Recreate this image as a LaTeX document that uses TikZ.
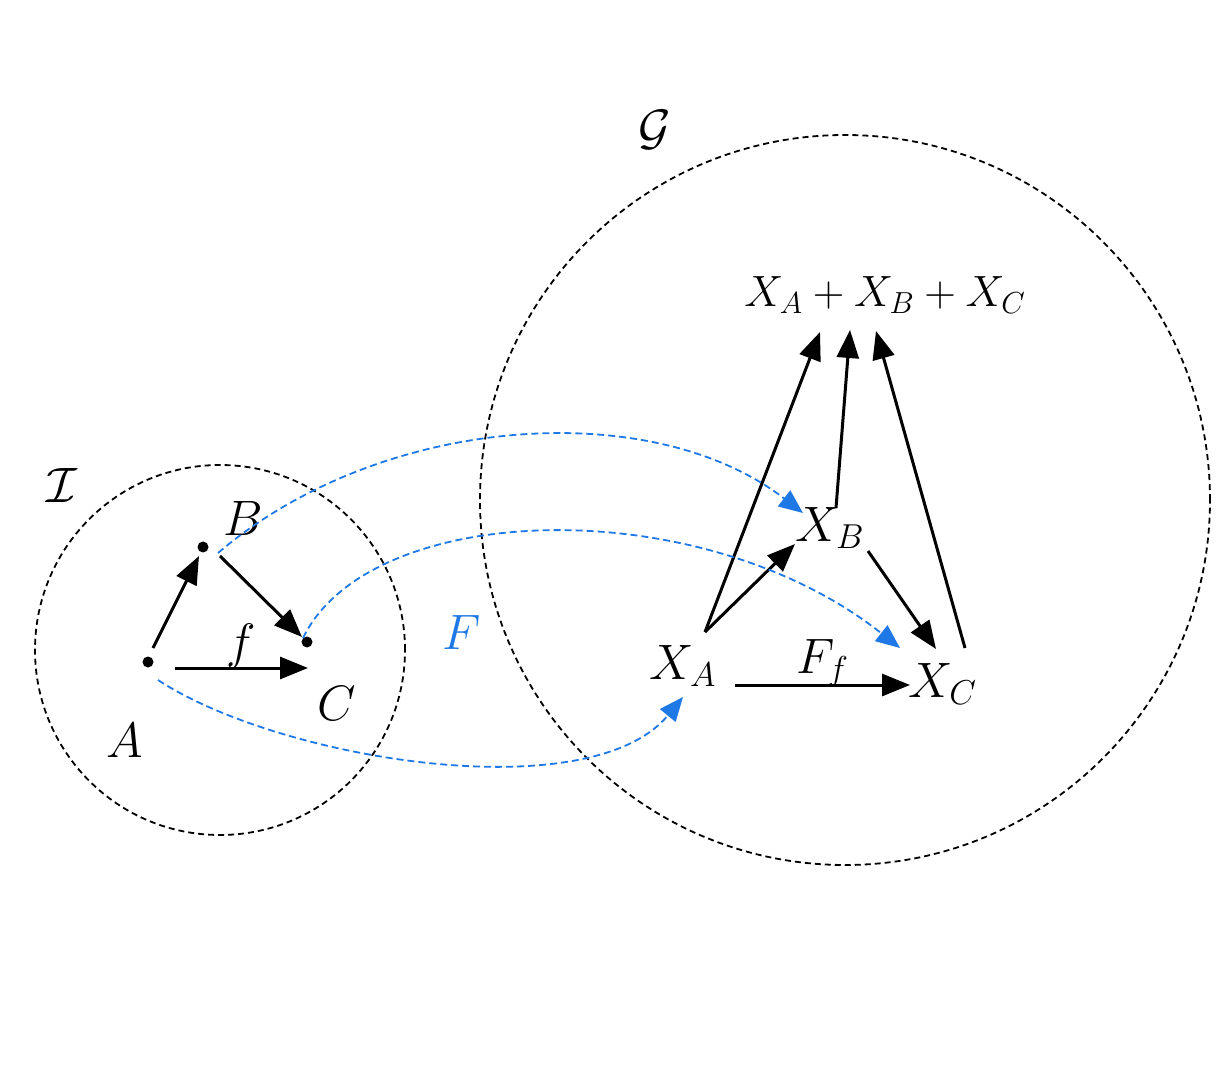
\documentclass[tikz,border=0pt]{standalone}
\usetikzlibrary{arrows.meta}
\definecolor{fblue}{RGB}{30,120,230}
\begin{document}
\begin{tikzpicture}[x=0.5pt,y=-0.5pt,
  lbl/.style={font=\fontsize{26}{28}\selectfont, inner sep=1pt},
  bigarrow/.style={line width=1.5pt, -{Triangle[length=14pt,width=11pt]}},
  circ/.style={draw=black, line width=0.9pt, dash pattern=on 3pt off 2pt},
  fmap/.style={draw=fblue, line width=0.9pt, dash pattern=on 3.5pt off 2pt, -{Triangle[length=12pt,width=10pt]}},
  pt/.style={circle, fill=black, inner sep=0pt, minimum size=5.5pt}]
\useasboundingbox (0,0) rectangle (1232,1080);
% circles
\node[circ, circle, minimum size=370*0.5pt, inner sep=0pt] (catI) at (220,650) {};
\node[circ, circle, minimum size=730*0.5pt, inner sep=0pt] (catG) at (845,500) {};
\node[lbl] (labI) at (62,485) {$\mathcal{I}$};
\node[lbl] (labG) at (655,130) {$\mathcal{G}$};
% left diagram
\node[pt] (A) at (148,662) {};
\node[pt] (B) at (203,547) {};
\node[pt] (C) at (307,642) {};
\node[lbl] (labA) at (125,740) {$A$};
\node[lbl] (labB) at (243,518) {$B$};
\node[lbl] (labC) at (337,703) {$C$};
\coordinate (ab0) at (153,648); \coordinate (ab1) at (199,556);
\coordinate (bc0) at (220,556); \coordinate (bc1) at (302,637);
\coordinate (ac0) at (175,668); \coordinate (ac1) at (308,668);
\draw[bigarrow] (ab0) -- (ab1);
\draw[bigarrow] (bc0) -- (bc1);
\draw[bigarrow] (ac0) -- node[lbl, above=-2pt] (labf) {$f$} (ac1);
% functor label
\node[lbl, text=fblue] (labF) at (462,632) {$F$};
% right diagram
\node[lbl] (sum) at (885,295) {\scalebox{0.88}{$X_A + X_B + X_C$}};
\node[lbl] (XB) at (830,528) {$X_B$};
\node[lbl] (XA) at (683,666) {$X_A$};
\node[lbl] (XC) at (943,684) {$X_C$};
\coordinate (s1) at (820,332); \coordinate (s2) at (850,330); \coordinate (s3) at (876,331);
\coordinate (xa0) at (705,632); \coordinate (xb0) at (836,508); \coordinate (xc0) at (965,648);
\coordinate (xab1) at (795,544);
\coordinate (xbc0) at (868,551); \coordinate (xbc1) at (936,649);
\coordinate (xac0) at (735,685); \coordinate (xac1) at (910,685);
\draw[bigarrow] (xa0) -- (s1);
\draw[bigarrow] (xb0) -- (s2);
\draw[bigarrow] (xc0) -- (s3);
\draw[bigarrow] (xa0) -- (xab1);
\draw[bigarrow] (xbc0) -- (xbc1);
\draw[bigarrow] (xac0) -- node[lbl, above=-3pt] (labFf) {$F_f$} (xac1);
% functor arrows
\coordinate (fb0) at (218,553); \coordinate (fb1) at (803,513);
\coordinate (fc0) at (303,638); \coordinate (fc1) at (900,648);
\coordinate (fa0) at (158,680); \coordinate (fa1) at (683,697);
\draw[fmap] (fb0) .. controls (380,415) and (650,395) .. (fb1);
\draw[fmap] (fc0) .. controls (370,500) and (700,490) .. (fc1);
\draw[fmap] (fa0) .. controls (280,760) and (590,810) .. (fa1);
\end{tikzpicture}
\end{document}
